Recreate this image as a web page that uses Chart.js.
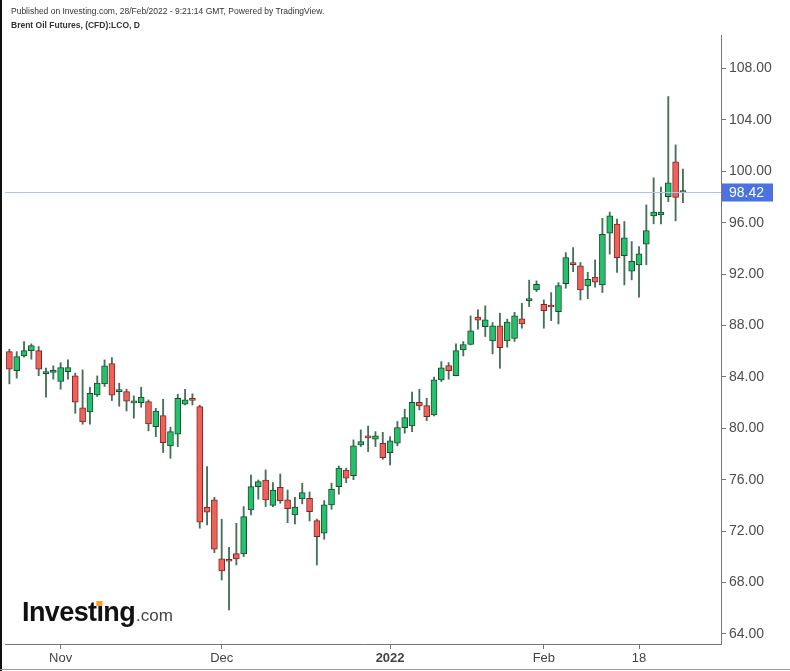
<!DOCTYPE html>
<html>
<head>
<meta charset="utf-8">
<script src="https://cdn.jsdelivr.net/npm/chart.js@4.4.1/dist/chart.umd.min.js"></script>
<style>
  html, body { margin: 0; padding: 0; background: #fff; }
  canvas { display: block; }
</style>
</head>
<body>
<canvas id="grafico" width="790" height="671"></canvas>
<script>
// ── DATOS ─────────────────────────────────────────────
const fechas = [
  '2021-10-21','2021-10-22','2021-10-25','2021-10-26','2021-10-27','2021-10-28','2021-10-29',
  '2021-11-01','2021-11-02','2021-11-03','2021-11-04','2021-11-05','2021-11-08','2021-11-09','2021-11-10','2021-11-11','2021-11-12',
  '2021-11-15','2021-11-16','2021-11-17','2021-11-18','2021-11-19','2021-11-22','2021-11-23','2021-11-24','2021-11-25','2021-11-26',
  '2021-11-29','2021-11-30',
  '2021-12-01','2021-12-02','2021-12-03','2021-12-06','2021-12-07','2021-12-08','2021-12-09','2021-12-10','2021-12-13','2021-12-14',
  '2021-12-15','2021-12-16','2021-12-17','2021-12-20','2021-12-21','2021-12-22','2021-12-23','2021-12-24','2021-12-27','2021-12-28',
  '2021-12-29','2021-12-30','2021-12-31',
  '2022-01-03','2022-01-04','2022-01-05','2022-01-06','2022-01-07','2022-01-10','2022-01-11','2022-01-12','2022-01-13','2022-01-14',
  '2022-01-17','2022-01-18','2022-01-19','2022-01-20','2022-01-21','2022-01-24','2022-01-25','2022-01-26','2022-01-27','2022-01-28',
  '2022-01-31',
  '2022-02-01','2022-02-02','2022-02-03','2022-02-04','2022-02-07','2022-02-08','2022-02-09','2022-02-10','2022-02-11','2022-02-14',
  '2022-02-15','2022-02-16','2022-02-17','2022-02-18','2022-02-21','2022-02-22','2022-02-23','2022-02-24','2022-02-25','2022-02-28'
];

const aperturas = [
  85.97, 84.49, 85.63, 86.05, 86.05, 84.25, 84.35, 83.64, 84.41, 84.08,
  81.59, 81.28, 82.60, 83.45, 85.04, 82.85, 82.86, 81.98, 82.00, 82.08,
  80.13, 80.99, 78.63, 79.54, 81.87, 82.25, 81.69, 73.86, 74.43, 69.84,
  69.74, 70.25, 70.23, 73.65, 75.46, 75.98, 74.01, 75.41, 74.43, 73.26,
  74.51, 74.56, 72.82, 71.84, 74.04, 75.46, 76.76, 76.32, 78.71, 79.34,
  79.15, 78.84, 78.11, 78.84, 80.06, 80.19, 82.03, 81.77, 81.04, 83.77,
  84.88, 84.10, 86.10, 86.52, 88.65, 87.91, 86.80, 87.97, 86.80, 86.99,
  88.51, 89.93, 90.77, 89.64, 89.50, 89.08, 91.26, 92.80, 92.64, 91.08,
  91.76, 91.16, 95.18, 95.88, 93.44, 92.23, 92.72, 94.33, 96.53, 96.61,
  98.03, 100.73, 98.35
];
const maximos = [
  86.16, 85.97, 86.75, 86.57, 86.36, 84.68, 84.86, 85.11, 85.32, 84.29,
  84.54, 83.20, 84.08, 85.32, 85.50, 83.51, 83.04, 82.52, 83.20, 82.21,
  81.56, 82.26, 80.09, 82.65, 83.04, 82.68, 81.80, 77.02, 74.64, 72.93,
  70.75, 72.61, 73.91, 76.37, 75.98, 76.76, 75.77, 76.45, 75.20, 74.64,
  75.73, 75.05, 72.93, 74.38, 75.73, 77.07, 76.90, 79.10, 79.88, 80.18,
  79.74, 79.69, 79.35, 80.53, 81.49, 82.81, 83.04, 82.34, 83.98, 85.19,
  85.11, 86.57, 86.75, 88.75, 89.21, 89.53, 88.23, 88.96, 88.49, 89.03,
  89.73, 91.53, 91.47, 89.99, 90.56, 91.34, 93.67, 94.06, 92.90, 92.14,
  93.10, 96.34, 96.82, 96.27, 96.09, 94.53, 94.14, 97.38, 99.49, 98.76,
  105.81, 102.05, 100.16
];
const minimos = [
  83.46, 83.90, 85.53, 85.38, 84.10, 82.42, 83.82, 83.04, 83.82, 81.17,
  80.32, 80.32, 82.47, 83.25, 82.16, 81.72, 81.35, 80.79, 81.64, 79.80,
  79.35, 78.11, 77.67, 78.58, 81.82, 81.82, 72.23, 72.48, 70.33, 68.20,
  65.87, 69.37, 70.02, 73.26, 74.48, 73.91, 73.91, 74.17, 72.66, 72.56,
  74.12, 72.79, 69.37, 71.37, 73.70, 74.87, 75.77, 76.00, 78.58, 78.19,
  78.58, 77.59, 77.15, 78.63, 79.62, 79.74, 81.43, 80.60, 80.97, 83.64,
  83.82, 84.08, 85.63, 86.49, 87.71, 87.14, 85.79, 84.67, 86.31, 86.76,
  87.79, 89.47, 90.64, 87.79, 88.38, 88.12, 90.90, 92.19, 89.99, 90.09,
  90.98, 90.56, 93.55, 92.12, 91.16, 91.55, 90.20, 92.72, 95.91, 95.91,
  97.64, 96.14, 97.56
];
const cierres = [
  84.60, 85.58, 86.05, 86.44, 84.60, 84.35, 84.45, 84.73, 84.73, 82.03,
  80.50, 82.73, 83.51, 84.86, 82.58, 82.95, 82.11, 82.06, 82.44, 80.34,
  81.35, 78.89, 79.74, 82.34, 82.21, 82.18, 72.69, 73.47, 70.59, 68.90,
  69.66, 69.84, 73.13, 75.46, 75.85, 74.43, 75.20, 74.38, 73.75, 73.88,
  75.00, 73.52, 71.57, 74.04, 75.28, 76.90, 76.12, 78.63, 78.96, 79.26,
  79.41, 77.72, 79.02, 80.06, 80.84, 82.03, 81.74, 80.91, 83.77, 84.70,
  84.49, 86.05, 86.52, 87.58, 88.41, 88.44, 87.97, 86.28, 88.26, 88.75,
  88.12, 90.03, 91.21, 89.16, 89.44, 91.10, 93.28, 92.74, 90.77, 91.60,
  91.37, 95.09, 96.53, 93.28, 94.82, 93.00, 93.57, 95.39, 96.82, 96.82,
  99.10, 97.96, 98.42
];

// etiquetas de los ejes
const xTickIndices = [7, 29, 52, 73, 86];
const xTickTextos  = ['Nov', 'Dec', '2022', 'Feb', '18'];
const yTicks       = [64, 68, 72, 76, 80, 84, 88, 92, 96, 100, 104, 108];

const titulo    = 'Brent Oil Futures, (CFD):LCO, D';
const publicado = 'Published on Investing.com, 28/Feb/2022 - 9:21:14 GMT, Powered by TradingView.';

// ── COLORES ─────────────────────────────────────────────
const VERDE = '#22c26c', VERDE_BORDE = '#1f4a30';
const ROJO  = '#f2605a', ROJO_BORDE  = '#7a2a26';
const MECHA = '#46705a';
const AZUL  = '#4a72e2';

const sube = cierres.map((c, i) => c >= aperturas[i]);

const cuerpos = fechas.map((f, i) => ({ x: i, y: [Math.min(aperturas[i], cierres[i]), Math.max(aperturas[i], cierres[i])] }));
const mechas  = fechas.map((f, i) => ({ x: i, y: [minimos[i], maximos[i]] }));

const ultimo = cierres[cierres.length - 1];

// Cabecera, logo y línea de precio
const extras = {
    id: 'extras',
    afterDraw(chart) {
        const ctx = chart.ctx;
        const area = chart.chartArea;
        const y = chart.scales.y;
        ctx.save();

        // marco de la captura
        ctx.fillStyle = '#111';
        ctx.fillRect(0, 0, 2, 671);
        ctx.fillStyle = '#9a9a9a';
        ctx.fillRect(0, 669, 790, 1);

        // cabecera
        ctx.fillStyle = '#333';
        ctx.textBaseline = 'alphabetic';
        ctx.font = '8.5px "Liberation Sans", Arial, sans-serif';
        ctx.fillText(publicado, 11, 14);
        ctx.font = 'bold 8.5px "Liberation Sans", Arial, sans-serif';
        ctx.fillText(titulo, 11, 28);

        // línea de último precio
        const py = Math.round(y.getPixelForValue(ultimo)) + 0.5;
        ctx.strokeStyle = '#b4c0f0';
        ctx.lineWidth = 1;
        ctx.beginPath();
        ctx.moveTo(area.left, py);
        ctx.lineTo(area.right, py);
        ctx.stroke();

        ctx.fillStyle = AZUL;
        ctx.fillRect(area.right + 1, py - 9, 51, 18);
        ctx.fillStyle = '#fff';
        ctx.font = '14px "Liberation Sans", Arial, sans-serif';
        ctx.textBaseline = 'middle';
        ctx.fillText(ultimo.toFixed(2), area.right + 8, py + 1);

        // logo Investing.com
        ctx.textBaseline = 'alphabetic';
        ctx.fillStyle = '#111';
        ctx.font = 'bold 27px "Liberation Sans", Arial, sans-serif';
        ctx.letterSpacing = '-0.6px';
        const lx = 22, ly = 621;
        ctx.fillText('Investing', lx, ly);
        const anchoInv = ctx.measureText('Investing').width;
        const anchoAntes = ctx.measureText('Invest').width;
        const anchoI = ctx.measureText('i').width;
        ctx.fillStyle = '#f7a21b';
        ctx.fillRect(lx + anchoAntes + anchoI / 2 - 3.5, ly - 20, 6, 5);
        ctx.letterSpacing = '0px';
        ctx.fillStyle = '#444';
        ctx.font = '17px "Liberation Sans", Arial, sans-serif';
        ctx.fillText('.com', lx + anchoInv + 1, ly);

        ctx.restore();
    }
};

new Chart(document.getElementById('grafico').getContext('2d'), {
    type: 'bar',
    data: {
        datasets: [
            {
                label: 'cuerpo',
                data: cuerpos,
                backgroundColor: sube.map(s => s ? VERDE : ROJO),
                borderColor: sube.map(s => s ? VERDE_BORDE : ROJO_BORDE),
                borderWidth: 1,
                borderSkipped: false,
                barThickness: 6,
                minBarLength: 2,
                grouped: false,
                order: 0
            },
            {
                label: 'mecha',
                data: mechas,
                backgroundColor: MECHA,
                borderWidth: 0,
                barThickness: 1.2,
                grouped: false,
                order: 1
            }
        ]
    },
    options: {
        responsive: false,
        animation: false,
        layout: { padding: { left: 5, top: 35, right: 0, bottom: 0 } },
        plugins: { legend: { display: false }, tooltip: { enabled: false } },
        scales: {
            x: {
                type: 'linear',
                min: -0.6,
                max: 97.2,
                offset: false,
                afterBuildTicks: s => { s.ticks = xTickIndices.map(v => ({ value: v })); },
                afterFit: s => { s.height = 27; },
                grid: { display: true, offset: false, drawOnChartArea: false, drawTicks: true, tickLength: 5, color: '#777' },
                border: { display: true, color: '#777', width: 1 },
                ticks: {
                    autoSkip: false,
                    maxRotation: 0,
                    padding: 2,
                    color: '#444',
                    font: ctx => ({
                        family: '"Liberation Sans", Arial, sans-serif',
                        size: 13,
                        weight: ctx.tick && ctx.tick.label === '2022' ? 'bold' : 'normal'
                    }),
                    callback: v => {
                        const k = xTickIndices.indexOf(v);
                        return k >= 0 ? xTickTextos[k] : '';
                    }
                }
            },
            y: {
                position: 'right',
                min: 63.22,
                max: 110.6,
                afterBuildTicks: s => { s.ticks = yTicks.map(v => ({ value: v })); },
                afterFit: s => { s.width = 69; },
                grid: { display: true, drawOnChartArea: false, drawTicks: true, tickLength: 5, color: '#777' },
                border: { display: true, color: '#777', width: 1 },
                ticks: {
                    padding: 3,
                    color: '#4d4d4d',
                    font: { family: '"Liberation Sans", Arial, sans-serif', size: 14 },
                    callback: v => parseFloat(v).toFixed(2)
                }
            }
        }
    },
    plugins: [extras]
});
</script>
</body>
</html>
